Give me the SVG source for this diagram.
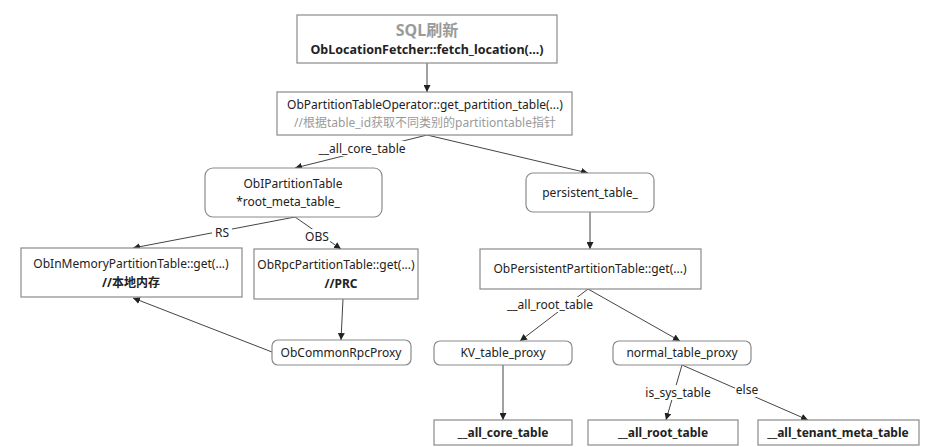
<svg xmlns="http://www.w3.org/2000/svg" width="949" height="447" viewBox="0 0 949 447">
<defs>
<marker id="ah" viewBox="0 0 10 10" refX="10" refY="5" markerWidth="7" markerHeight="7" orient="auto" markerUnits="userSpaceOnUse">
<path d="M0,0 L10,5 L0,10 z" fill="#222"/>
</marker>
<style>
.box{fill:#fff;stroke:#8a8a8a;stroke-width:1.2}
.t{font-family:"Noto Sans","Noto Sans CJK SC",sans-serif;font-size:12px;fill:#222;text-anchor:middle}
.b{font-weight:bold}
.g{fill:#9a9a9a}
.e{fill:none;stroke:#444;stroke-width:1;marker-end:url(#ah)}
.lbl{font-family:"Noto Sans","Noto Sans CJK SC",sans-serif;font-size:12px;fill:#222;text-anchor:middle}
.bg{fill:#fff}
</style>
</defs>
<rect width="949" height="447" fill="#fff"/>
<g id="edges">
<line class="e" x1="427" y1="63" x2="427" y2="92"/>
<line class="e" x1="427" y1="135" x2="295" y2="168"/>
<line class="e" x1="427" y1="135" x2="588" y2="173"/>
<line class="e" x1="295" y1="217" x2="133" y2="248"/>
<line class="e" x1="295" y1="217" x2="341" y2="249"/>
<line class="e" x1="343" y1="299" x2="341" y2="340"/>
<line class="e" x1="272" y1="352" x2="133" y2="298"/>
<line class="e" x1="590" y1="212" x2="590" y2="249"/>
<line class="e" x1="588" y1="289" x2="520" y2="341"/>
<line class="e" x1="588" y1="289" x2="680" y2="341"/>
<line class="e" x1="503" y1="365" x2="503" y2="420"/>
<line class="e" x1="682" y1="365" x2="666" y2="420"/>
<line class="e" x1="682" y1="365" x2="808" y2="420"/>
<rect class="bg" x="317" y="141" width="90" height="15"/>
<text class="lbl" x="362" y="153">__all_core_table</text>
<rect class="bg" x="212" y="225" width="20" height="14"/>
<text class="lbl" x="222" y="237">RS</text>
<rect class="bg" x="304" y="229" width="26" height="14"/>
<text class="lbl" x="317" y="241">OBS</text>
<rect class="bg" x="507" y="297" width="86" height="15"/>
<text class="lbl" x="550" y="309">__all_root_table</text>
<rect class="bg" x="645" y="385" width="66" height="15"/>
<text class="lbl" x="678" y="397">is_sys_table</text>
<rect class="bg" x="735" y="383" width="24" height="14"/>
<text class="lbl" x="747" y="394">else</text>
</g>
<g id="n-sql">
<rect class="box" x="297" y="15" width="260" height="48"/>
<text class="t b g" x="427" y="36" style="font-size:16px">SQL刷新</text>
<text class="t b" x="427" y="54" style="font-size:12.5px">ObLocationFetcher::fetch_location(...)</text>
</g>
<g id="n-operator">
<rect class="box" x="277" y="92" width="295" height="43"/>
<text class="t" x="425" y="109">ObPartitionTableOperator::get_partition_table(...)</text>
<text class="t g" x="425" y="127">//根据table_id获取不同类别的partitiontable指针</text>
</g>
<g id="n-ipt">
<rect class="box" x="205" y="168" width="177" height="49" rx="8"/>
<text class="t" x="293" y="188">ObIPartitionTable</text>
<text class="t" x="288" y="206">*root_meta_table_</text>
</g>
<g id="n-persistent">
<rect class="box" x="526" y="173" width="128" height="39" rx="7"/>
<text class="t" x="590" y="197">persistent_table_</text>
</g>
<g id="n-inmem">
<rect class="box" x="21" y="248" width="221" height="49"/>
<text class="t" x="131" y="268">ObInMemoryPartitionTable::get(...)</text>
<text class="t b" x="131" y="287">//本地内存</text>
</g>
<g id="n-rpc">
<rect class="box" x="254" y="249" width="164" height="50"/>
<text class="t" x="336" y="269">ObRpcPartitionTable::get(...)</text>
<text class="t b" x="341" y="288">//PRC</text>
</g>
<g id="n-persget">
<rect class="box" x="480" y="249" width="221" height="40"/>
<text class="t" x="590" y="273">ObPersistentPartitionTable::get(...)</text>
</g>
<g id="n-commonrpc">
<rect class="box" x="272" y="340" width="139" height="25" rx="6"/>
<text class="t" x="341" y="357">ObCommonRpcProxy</text>
</g>
<g id="n-kv">
<rect class="box" x="434" y="341" width="138" height="24" rx="6"/>
<text class="t" x="503" y="357">KV_table_proxy</text>
</g>
<g id="n-normal">
<rect class="box" x="613" y="341" width="138" height="24" rx="6"/>
<text class="t" x="682" y="357">normal_table_proxy</text>
</g>
<g id="n-core">
<rect class="box" x="434" y="420" width="138" height="25"/>
<text class="t b" x="503" y="437">__all_core_table</text>
</g>
<g id="n-root">
<rect class="box" x="588" y="420" width="150" height="25"/>
<text class="t b" x="663" y="437">__all_root_table</text>
</g>
<g id="n-tenant">
<rect class="box" x="758" y="420" width="161" height="25"/>
<text class="t b" x="838" y="437">__all_tenant_meta_table</text>
</g>
</svg>
